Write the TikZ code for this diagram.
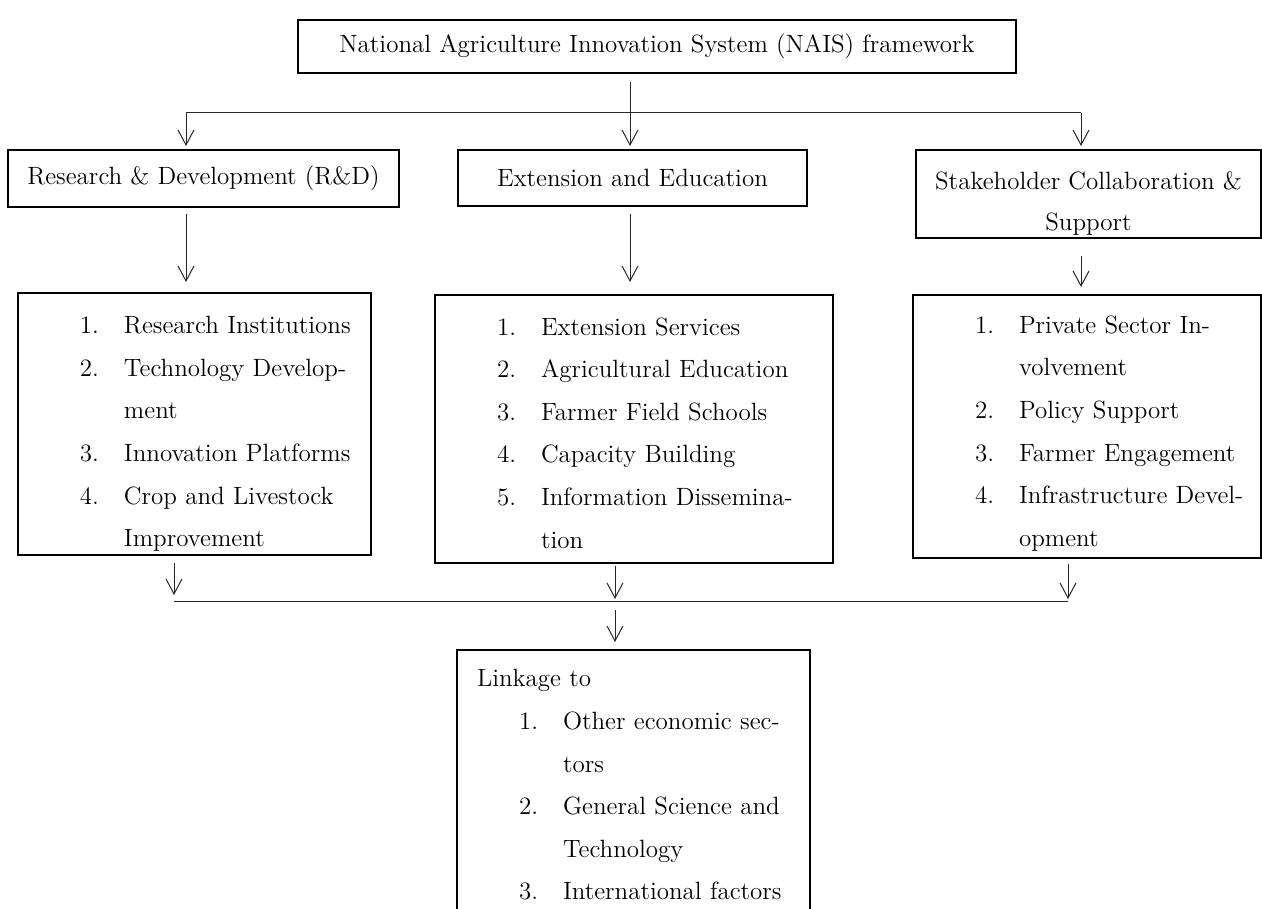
\documentclass[tikz,border=0pt]{standalone}
\usepackage{tikz}
\usetikzlibrary{
  arrows.meta,
  positioning
}
\newcommand{\itm}[2]{\hspace*{31pt}\makebox[22pt][l]{#1.}\mbox{#2}}
\newcommand{\cnt}[1]{\hspace*{53pt}\mbox{#1}}

\begin{document}
\begin{tikzpicture}[x=0.5pt,y=-0.5pt,
  box/.style={draw,line width=1pt,inner sep=0pt,align=center,
    font=\fontsize{12.5}{21.3}\selectfont},
  % a taller first line pushes the list text down inside its box
  listbox/.style={box,align=left,execute at begin node={\rule{0pt}{#1}}},
  link/.style={line width=0.5pt,black!85},
  arrow/.style={link,-{Straight Barb[length=7.5pt,width=8pt]}}
]
\useasboundingbox (0,0) rectangle (1262,909);
\clip (0,0) rectangle (1262,909);

% ---- framework ----
\node[box,minimum width=359pt,minimum height=26.5pt] (nais) at (657,46.5)
  {National Agriculture Innovation System (NAIS) framework};

% ---- three pillars ----
\node[box,minimum width=195.5pt,minimum height=28.5pt] (rd)  at (203.5,178.5)
  {Research \& Development (R\&D)};
\node[box,minimum width=174.5pt,minimum height=28pt]   (ext) at (632.5,178)
  {Extension and Education};
\node[box,minimum width=172.5pt,minimum height=44pt]   (stk) at (1088.5,194)
  {\rule{0pt}{18.7pt}Stakeholder Collaboration \&\\[-1pt]Support};

% ---- component lists ----
\node[listbox=18.7pt,text width=176.5pt,minimum height=131pt] (rdlist) at (194.5,424)
  {\itm{1}{Research Institutions}\\
   \itm{2}{Technology Develop-}\\
   \cnt{ment}\\
   \itm{3}{Innovation Platforms}\\
   \itm{4}{Crop and Livestock}\\
   \cnt{Improvement}};
\node[listbox=12.7pt,text width=199pt,minimum height=134pt] (extlist) at (634,429)
  {\itm{1}{Extension Services}\\
   \itm{2}{Agricultural Education}\\
   \itm{3}{Farmer Field Schools}\\
   \itm{4}{Capacity Building}\\
   \itm{5}{Information Dissemina-}\\
   \cnt{tion}};
\node[listbox=15.7pt,text width=174pt,minimum height=131.5pt] (stklist) at (1087,426.5)
  {\itm{1}{Private Sector In-}\\
   \cnt{volvement}\\
   \itm{2}{Policy Support}\\
   \itm{3}{Farmer Engagement}\\
   \itm{4}{Infrastructure Devel-}\\
   \cnt{opment}};

% ---- linkage ----
\node[listbox=0pt,text width=176.5pt,minimum height=135pt] (link) at (633.5,785)
  {\hspace*{10pt}Linkage to\\
   \itm{1}{Other economic sec-}\\
   \cnt{tors}\\
   \itm{2}{General Science and}\\
   \cnt{Technology}\\
   \itm{3}{International factors}};

% ---- upper fan ----
\coordinate (hub)  at (630,113);
\coordinate (hubL) at (186,113);
\coordinate (hubR) at (1081,113);
\draw[link,shorten <=4pt] (nais.south -| hub) -- (hub);
\draw[link] (hubL) -- (hubR);
\draw[arrow,shorten >=1.5pt] (hubL) -- (hubL |- rd.north);
\draw[arrow,shorten >=1.5pt] (hub)  -- (hub |- ext.north);
\draw[arrow,shorten >=1.5pt] (hubR) -- (hubR |- stk.north);

% ---- pillars to lists ----
\draw[arrow,shorten <=3pt,shorten >=5pt]   (rd.south -| hubL) -- (hubL |- rdlist.north);
\draw[arrow,shorten <=3.5pt,shorten >=6pt] (ext.south -| hub) -- (hub |- extlist.north);
\draw[arrow,shorten <=8.5pt,shorten >=3.5pt] (stk.south -| hubR) -- (hubR |- stklist.north);

% ---- lower fan ----
\coordinate (low)  at (615,601);
\coordinate (lowL) at (174,601);
\coordinate (lowR) at (1068,601);
\draw[link] (lowL) -- (lowR);
\draw[arrow,shorten <=3.5pt,shorten >=3pt] (rdlist.south -| lowL) -- (lowL);
\draw[arrow,shorten <=1pt,shorten >=1pt]   (extlist.south -| low) -- (low);
\draw[arrow,shorten <=2.5pt,shorten >=1pt] (stklist.south -| lowR) -- (lowR);
\draw[arrow,shorten <=4.5pt,shorten >=3.5pt] (low) -- (low |- link.north);
\end{tikzpicture}
\end{document}
